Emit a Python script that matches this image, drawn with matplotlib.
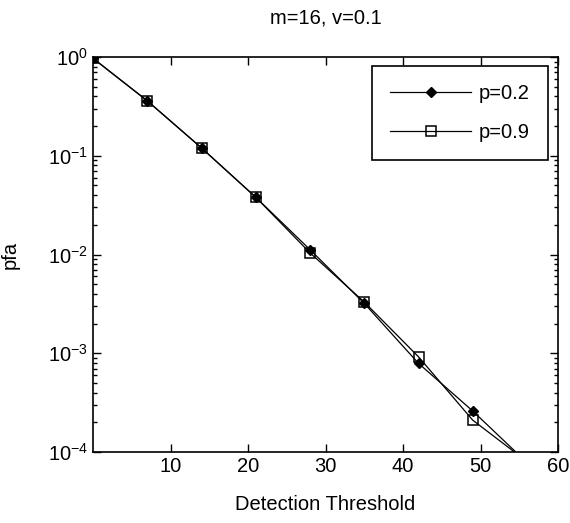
import matplotlib
matplotlib.use("Agg")
import matplotlib.pyplot as plt
import numpy as np

# data
threshold = [0, 7, 14, 21, 28, 35, 42, 49, 56]
pfa_p02 = [0.97, 0.36, 0.12, 0.038, 0.0112, 0.0032, 0.00079, 0.00026, 0.000078]
pfa_p09 = [0.97, 0.36, 0.12, 0.038, 0.0104, 0.0033, 0.00092, 0.00021, 0.00008]
x_ticks = [10, 20, 30, 40, 50, 60]

plt.rcParams['font.family'] = ['Liberation Sans', 'DejaVu Sans']
fs = 14.5

fig = plt.figure(figsize=(5.7, 5.23), dpi=100)
ax = fig.add_axes([93/570, 71/523, 465/570, 395/523])

ax.semilogy(threshold, pfa_p02, color='black', linewidth=0.9, marker='D',
            markersize=5, label='p=0.2')
ax.semilogy(threshold, pfa_p09, color='black', linewidth=0.9, marker='s',
            markersize=7, markerfacecolor='none', markeredgewidth=1.1, label='p=0.9')

ax.set_xlim(0, 60)
ax.set_ylim(1e-4, 1)
ax.set_xticks(x_ticks)
ax.set_yticks([1e-4, 1e-3, 1e-2, 1e-1, 1])
ax.tick_params(which='both', direction='in', top=True, right=True, labelsize=fs)
ax.tick_params(which='major', length=6, width=1)
ax.tick_params(which='minor', length=3, width=1)
for s in ax.spines.values():
    s.set_linewidth(1.2)

ax.set_title('m=16, v=0.1', fontsize=fs, pad=24)
ax.set_xlabel('Detection Threshold', fontsize=fs, labelpad=14)
ax.set_ylabel('pfa', fontsize=fs, labelpad=20)

leg = ax.legend(loc='upper right', bbox_to_anchor=(548/570, 1 - 66/523),
                bbox_transform=fig.transFigure, borderaxespad=0,
                fontsize=fs, fancybox=False, framealpha=1, edgecolor='black',
                handlelength=4, handletextpad=0.4, borderpad=0.9, labelspacing=1.0)
leg.get_frame().set_linewidth(1.2)

fig.savefig('out.png', dpi=100)
